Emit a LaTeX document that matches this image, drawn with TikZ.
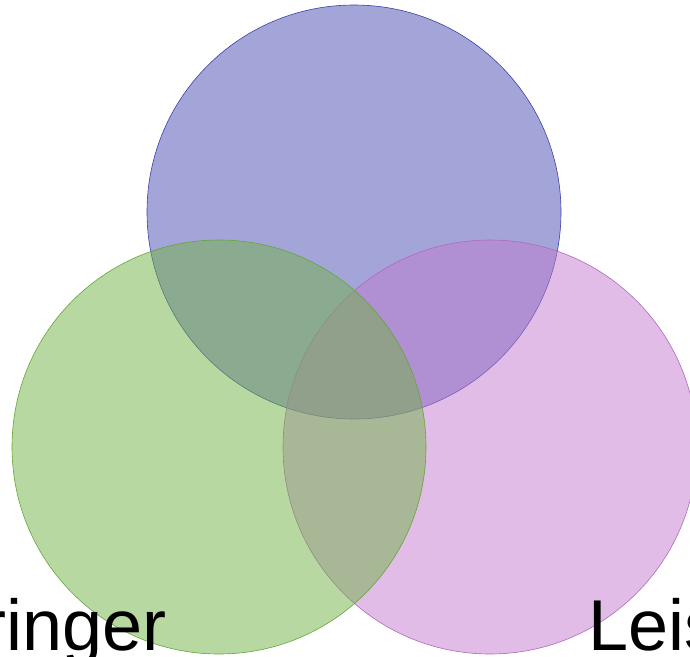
\documentclass[tikz,border=0pt]{standalone}
\usepackage{fontspec}
\setmainfont{Liberation Sans}
\definecolor{cblue}{RGB}{72,76,180}
\definecolor{cgreen}{RGB}{113,178,69}
\definecolor{cpink}{RGB}{193,122,205}
\definecolor{eblue}{RGB}{60,64,170}
\definecolor{egreen}{RGB}{100,165,60}
\definecolor{epink}{RGB}{175,105,190}
\begin{document}
\begin{tikzpicture}[x=1pt,y=-1pt,
  setcircle/.style={circle,minimum size=414pt,inner sep=0pt,fill opacity=0.5,line width=0.6pt},
  biglabel/.style={font=\fontsize{72}{86}\selectfont,inner sep=0pt,text=black}]
\useasboundingbox (0,0) rectangle (690,656);
\node[setcircle,fill=cblue,draw=eblue] (blue) at (354,212) {};
\node[setcircle,fill=cpink,draw=epink] (pink) at (490,447) {};
\node[setcircle,fill=cgreen,draw=egreen] (green) at (219,447) {};
\node[biglabel,anchor=base east] (lleft) at (167,650) {ringer};
\node[biglabel,anchor=base west] (lright) at (588,650) {Leis};
\end{tikzpicture}
\end{document}
